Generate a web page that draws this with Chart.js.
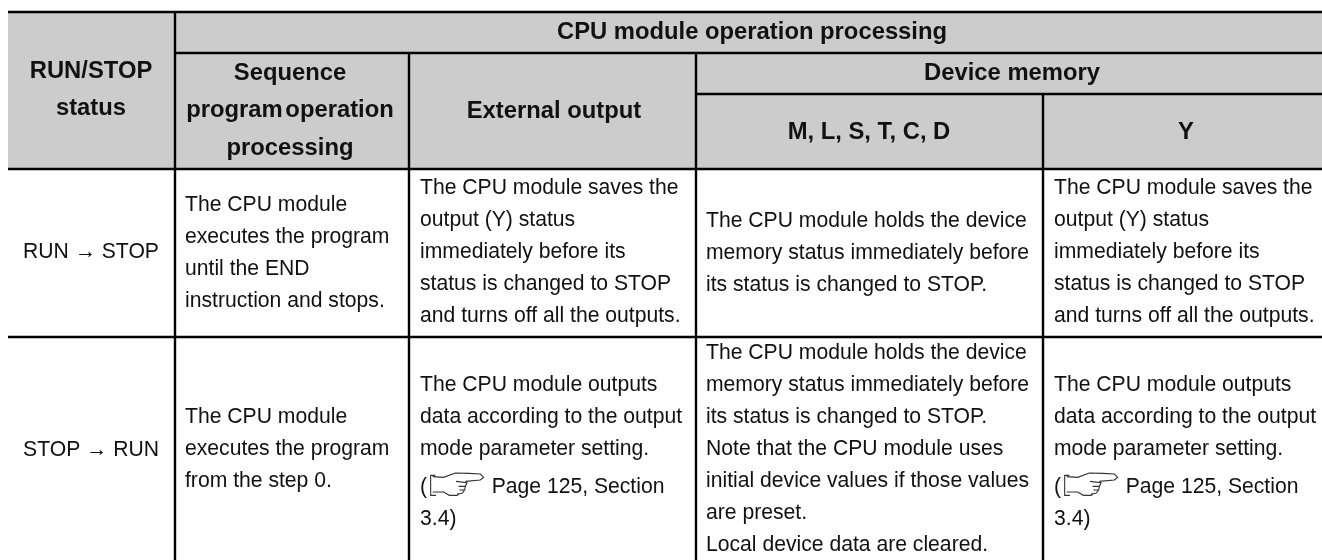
<!DOCTYPE html>
<html>
<head>
<meta charset="utf-8">
<title>RUN/STOP status</title>
<script src="https://cdn.jsdelivr.net/npm/chart.js@4"></script>
<style>
  html, body { margin: 0; padding: 0; background: #fff; }
  canvas { display: block; }
</style>
</head>
<body>
<canvas id="tableChart" width="1322" height="560"></canvas>
<script>
// table text, one array per cell, a cell is a list of lines
const statusHead = ['RUN/STOP', 'status'];
const topHead = ['CPU module operation processing'];
const sequenceHead = ['Sequence', 'program operation', 'processing'];
const outputHead = ['External output'];
const memoryHead = ['Device memory'];
const memoryColHead = ['M, L, S, T, C, D'];
const yColHead = ['Y'];

const statusRun = ['RUN \u2192 STOP'];
const statusStop = ['STOP \u2192 RUN'];
const seqRun = ['The CPU module', 'executes the program', 'until the END', 'instruction and stops.'];
const seqStop = ['The CPU module', 'executes the program', 'from the step 0.'];
const outRun = ['The CPU module saves the', 'output (Y) status', 'immediately before its', 'status is changed to STOP', 'and turns off all the outputs.'];
const outStop = ['The CPU module outputs', 'data according to the output', 'mode parameter setting.', '(           Page 125, Section', '3.4)'];
const memRun = ['The CPU module holds the device', 'memory status immediately before', 'its status is changed to STOP.'];
const memStop = ['The CPU module holds the device', 'memory status immediately before', 'its status is changed to STOP.', 'Note that the CPU module uses', 'initial device values if those values', 'are preset.', 'Local device data are cleared.'];

// grid of the table, in page units
const xEdges = [8, 175, 409, 696, 1043, 1322];
const yEdges = [12, 53, 94, 169, 337, 560];
const LINE_H = 32;
const HAND_GAP = 6;

const headFill = '#cccccc';
const ink = '#000000';
const textInk = '#111111';

function rule(x1, y1, x2, y2) {
    return {
        type: 'scatter', showLine: true, pointRadius: 0, borderColor: ink, borderWidth: 2.4,
        data: [{ x: x1, y: y1 }, { x: x2, y: y2 }]
    };
}

// first dataset is painted last, so the grey goes at the end of the list
const datasets = [
    rule(xEdges[0], yEdges[0], xEdges[5], yEdges[0]),
    rule(xEdges[1], yEdges[1], xEdges[5], yEdges[1]),
    rule(xEdges[3], yEdges[2], xEdges[5], yEdges[2]),
    rule(xEdges[0], yEdges[3], xEdges[5], yEdges[3]),
    rule(xEdges[0], yEdges[4], xEdges[5], yEdges[4]),
    rule(xEdges[1], yEdges[0], xEdges[1], yEdges[5]),
    rule(xEdges[2], yEdges[1], xEdges[2], yEdges[5]),
    rule(xEdges[3], yEdges[1], xEdges[3], yEdges[5]),
    rule(xEdges[4], yEdges[2], xEdges[4], yEdges[5]),
    {
        type: 'scatter', showLine: true, pointRadius: 0, borderWidth: 0, fill: 'shape', backgroundColor: headFill,
        data: [
            { x: xEdges[0], y: yEdges[0] }, { x: xEdges[5], y: yEdges[0] },
            { x: xEdges[5], y: yEdges[3] }, { x: xEdges[0], y: yEdges[3] }, { x: xEdges[0], y: yEdges[0] }
        ]
    }
];

const HEAD_FONT = 'bold 23.8px "Liberation Sans", Arial, sans-serif';
const BODY_FONT = '21.15px "Liberation Sans", Arial, sans-serif';

// [lines, centre x, first line y, line step, bold, word spacing]
const centredCells = [
    [statusHead, 91, 71, 37.5, true],
    [topHead, 752, 32, 0, true],
    [sequenceHead, 290, 73, 37.5, true, '-4px'],
    [outputHead, 554, 111, 0, true],
    [memoryHead, 1012, 73, 0, true],
    [memoryColHead, 869, 132, 0, true],
    [yColHead, 1186, 132, 0, true],
    [statusRun, 91, 252, 0, false],
    [statusStop, 91, 450, 0, false]
];
// [lines, left x, first line y]
const leftCells = [
    [seqRun, 185, 205], [seqStop, 185, 417],
    [outRun, 420, 188], [outStop, 420, 385],
    [memRun, 706, 221], [memStop, 706, 353],
    [outRun, 1054, 188], [outStop, 1054, 385]
];
// left end of the pointing hand crops
const handOffsets = [412, 1046];

function drawHand(ctx, sx, sy, x0, y0) {
    const px = function (v) { return sx.getPixelForValue(x0 + v / 3); };
    const py = function (v) { return sy.getPixelForValue(y0 + v / 3); };
    const path = [
        [[70, 22], [56, 22], [56, 82], [72, 82]],
        [[62, 26], [95, 28], [130, 15], [170, 16], [205, 18], [215, 28], [205, 36], [160, 40]],
        [[132, 40], [165, 44], [160, 55], [140, 55]],
        [[160, 55], [158, 66], [142, 66]],
        [[158, 66], [150, 76], [135, 78]],
        [[62, 72], [95, 72], [112, 82], [135, 82], [146, 76]]
    ];
    ctx.save();
    ctx.strokeStyle = '#333333';
    ctx.lineWidth = 1.1;
    ctx.beginPath();
    path.forEach(function (stroke) {
        stroke.forEach(function (p, i) {
            if (i === 0) ctx.moveTo(px(p[0]), py(p[1]));
            else ctx.lineTo(px(p[0]), py(p[1]));
        });
    });
    ctx.stroke();
    ctx.restore();
}

const tableText = {
    id: 'tableText',
    afterDatasetsDraw(chart) {
        const ctx = chart.ctx;
        const sx = chart.scales.x;
        const sy = chart.scales.y;
        ctx.save();
        ctx.textBaseline = 'middle';
        ctx.fillStyle = textInk;
        ctx.textAlign = 'center';
        centredCells.forEach(function (c) {
            ctx.font = c[4] ? HEAD_FONT : BODY_FONT;
            ctx.wordSpacing = c[5] || '0px';
            c[0].forEach(function (line, i) {
                ctx.fillText(line, sx.getPixelForValue(c[1]), sy.getPixelForValue(c[2] + i * c[3]));
            });
        });
        ctx.wordSpacing = '0px';
        ctx.font = BODY_FONT;
        ctx.textAlign = 'left';
        leftCells.forEach(function (c) {
            let gap = 0;
            c[0].forEach(function (line, i) {
                if (line.charAt(0) === '(' && line.indexOf('Page') > 0) gap = HAND_GAP;
                ctx.fillText(line, sx.getPixelForValue(c[1]), sy.getPixelForValue(c[2] + i * LINE_H + gap));
            });
        });
        ctx.restore();
        handOffsets.forEach(function (h) { drawHand(ctx, sx, sy, h, 468); });
    }
};

new Chart(document.getElementById('tableChart'), {
    type: 'scatter',
    data: { datasets: datasets },
    options: {
        responsive: false,
        animation: false,
        layout: { padding: 0 },
        plugins: { legend: { display: false }, tooltip: { enabled: false } },
        scales: {
            x: { type: 'linear', display: false, min: 0, max: 1322 },
            y: { type: 'linear', display: false, min: 0, max: 560, reverse: true }
        }
    },
    plugins: [tableText]
});
</script>
</body>
</html>
